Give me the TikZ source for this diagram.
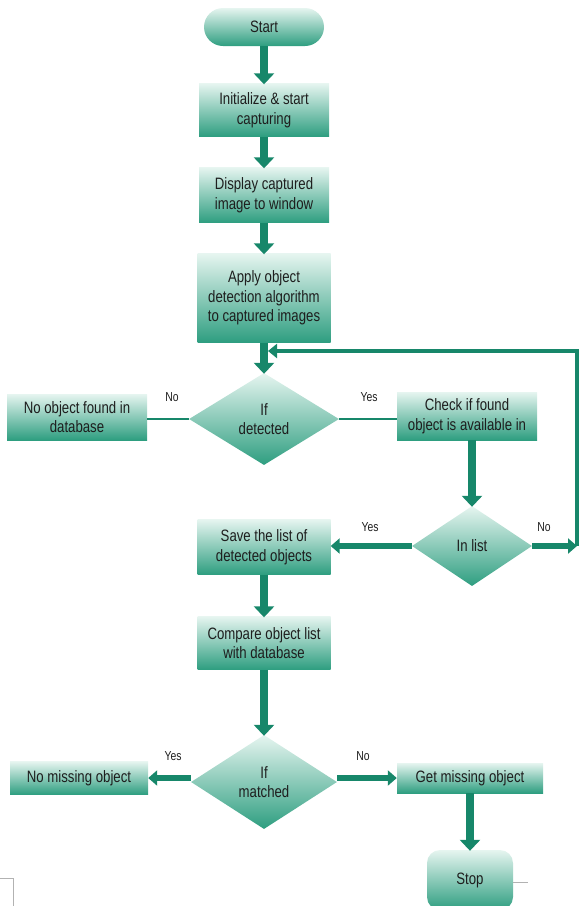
\documentclass[tikz,border=0pt]{standalone}
\usepackage{fontspec}
\setmainfont[FakeStretch=0.8]{Liberation Sans}
\usetikzlibrary{arrows.meta,shapes.geometric}
\definecolor{arrowg}{HTML}{17876A}
\definecolor{boxtop}{HTML}{E6F5F0}
\definecolor{boxmid}{HTML}{B6E0D2}
\definecolor{boxbot}{HTML}{2E9E80}
\definecolor{txt}{HTML}{1E1E1E}
\tikzset{
  fillg/.style={top color=boxtop, middle color=boxmid, bottom color=boxbot, draw=none},
  box/.style={rectangle, fillg, align=center, text=txt, inner sep=1pt,
    font=\fontsize{16.5}{19.5}\selectfont},
  pill/.style={box, rounded corners=19pt},
  dec/.style={diamond, fillg, align=center, text=txt, inner sep=0pt,
    font=\fontsize{16.5}{19.5}\selectfont},
  lbl/.style={text=txt, font=\fontsize{13}{15}\selectfont},
  mainarrow/.style={draw=arrowg, line width=8pt, -{Triangle[width=20pt,length=11pt]}, shorten >=-1pt},
  sidearrow/.style={draw=arrowg, line width=6pt, -{Triangle[width=15pt,length=9pt]}},
  thinline/.style={draw=arrowg, line width=2.5pt},
  fbline/.style={draw=arrowg, line width=4.5pt, -{Triangle[width=14pt,length=9pt]}},
  pagemark/.style={draw=gray!60, line width=0.6pt}
}
\begin{document}
\begin{tikzpicture}[x=1pt,y=-1pt]
\useasboundingbox (0,0) rectangle (580,906);
% nodes
\node[pill, minimum width=120pt, minimum height=38pt] (start) at (264,27) {Start};
\node[box, minimum width=130pt, minimum height=53pt] (init) at (264,110) {Initialize \& start\\capturing};
\node[box, minimum width=130pt, minimum height=55pt] (disp) at (264,195) {Display captured\\image to window};
\node[box, minimum width=133pt, minimum height=89pt] (apply) at (264,298) {Apply object\\detection algorithm\\to captured images};
\node[dec, minimum width=150pt, minimum height=92pt] (det) at (264,419) {If\\detected};
\node[box, minimum width=140pt, minimum height=46pt] (noobj) at (77,417) {No object found in\\database};
\node[box, minimum width=140pt, minimum height=48pt] (check) at (467,416) {Check if found\\object is available in};
\node[dec, minimum width=120pt, minimum height=80pt] (inl) at (472,546) {In list};
\node[box, minimum width=133pt, minimum height=55pt] (save) at (264,547) {Save the list of\\detected objects};
\node[box, minimum width=133pt, minimum height=53pt] (comp) at (264,643) {Compare object list\\with database};
\node[dec, minimum width=146pt, minimum height=94pt] (mat) at (264,782) {If\\matched};
\node[box, minimum width=138pt, minimum height=33pt] (nomiss) at (79,778) {No missing object};
\node[box, minimum width=146pt, minimum height=30pt] (get) at (470,778) {Get missing object};
\node[box, rounded corners=13pt, minimum width=86pt, minimum height=60pt] (stop) at (470,880) {Stop};
% coordinates
\coordinate (fb1) at (577,546);
\coordinate (fb2) at (577,351);
\coordinate (fb3) at (268,351);
% connectors
\draw[mainarrow] (start) -- (init);
\draw[mainarrow] (init) -- (disp);
\draw[mainarrow] (disp) -- (apply);
\draw[mainarrow] (apply) -- (det);
\draw[thinline] (noobj.east |- det.west) -- (det.west);
\draw[thinline] (det.east) -- (det.east -| check.west);
\draw[mainarrow] (check.south -| inl.north) -- (inl.north);
\draw[sidearrow] (inl.west) -- (inl.west -| save.east);
\draw[sidearrow] (inl.east) -- (fb1);
\draw[fbline] (fb1) -- (fb2) -- (fb3);
\draw[mainarrow] (save) -- (comp);
\draw[mainarrow] (comp) -- (mat);
\draw[sidearrow] (mat.west |- nomiss.east) -- (nomiss.east);
\draw[sidearrow] (mat.east |- get.west) -- (get.west);
\draw[mainarrow] (get.south) -- (get.south |- stop.north);
% labels
\node[lbl] (lno1) at (172,397) {No};
\node[lbl] (lyes1) at (369,397) {Yes};
\node[lbl] (lyes2) at (370,527) {Yes};
\node[lbl] (lno2) at (544,527) {No};
\node[lbl] (lyes3) at (173,756) {Yes};
\node[lbl] (lno3) at (363,756) {No};
% page marks
\draw[pagemark] (0,878) -- (13,878) -- (13,906);
\draw[pagemark] (513,882) -- (528,882);
\end{tikzpicture}
\end{document}
